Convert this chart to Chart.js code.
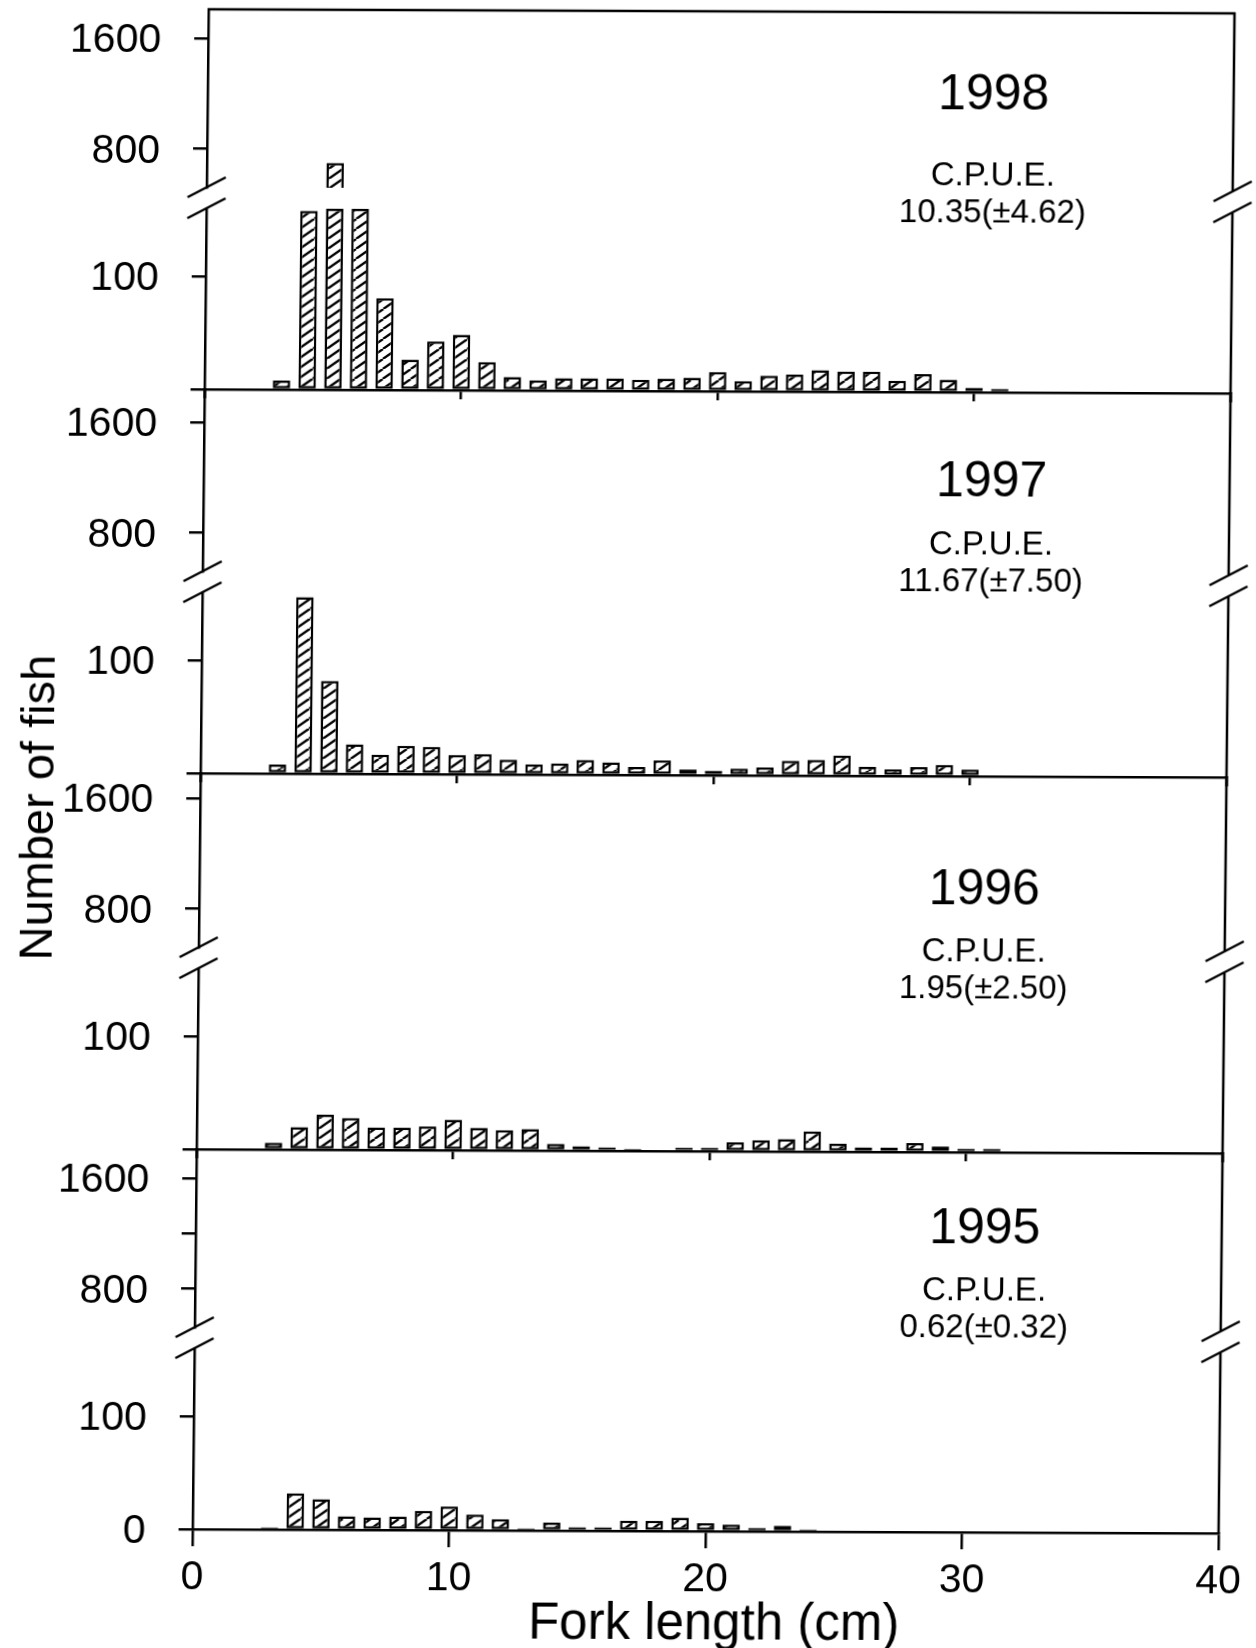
<!DOCTYPE html>
<html>
<head>
<meta charset="utf-8">
<script src="https://cdn.jsdelivr.net/npm/chart.js@4.4.1/dist/chart.umd.min.js"></script>
<style>
  html, body { margin: 0; padding: 0; background: #fff; overflow: hidden; }
  /* the printed figure is slightly sheared on the page */
  #fig { position: relative; width: 1256px; height: 1648px;
         transform-origin: 628px 824px; transform: matrix(1, 0.004, -0.0105, 1, 0, 0); }
  #fig canvas { position: absolute; left: 0; top: 0; }
</style>
</head>
<body>
<div id="fig">
  <canvas id="c1998" width="1256" height="1648"></canvas>
  <canvas id="c1997" width="1256" height="1648"></canvas>
  <canvas id="c1996" width="1256" height="1648"></canvas>
  <canvas id="c1995" width="1256" height="1648"></canvas>
</div>
<script>
// fork length classes (cm), one bar per class
const lengths = [3, 4, 5, 6, 7, 8, 9, 10, 11, 12, 13, 14, 15, 16, 17,
                 18, 19, 20, 21, 22, 23, 24, 25, 26, 27, 28, 29, 30, 31, 32];

// number of fish per length class
const fish1998 = [8, 158, 700, 250, 81, 27, 43, 49, 25, 12, 9, 11, 11, 11, 10,
                  11, 12, 17, 9, 14, 15, 19, 18, 18, 10, 16, 11, 4, 3, 0];
const fish1997 = [8, 156, 82, 26, 17, 25, 24, 17, 18, 13, 9, 10, 13, 11, 7,
                  13, 5, 4, 6, 7, 13, 14, 18, 8, 6, 8, 10, 6, 0, 1];
const fish1996 = [6, 20, 31, 28, 20, 20, 21, 27, 20, 18, 19, 6, 4, 3, 2,
                  0, 3, 3, 8, 10, 11, 18, 7, 4, 4, 8, 5, 3, 3, 0];
const fish1995 = [2, 32, 27, 12, 11, 12, 17, 21, 14, 10, 2, 7, 3, 3, 9,
                  9, 12, 7, 6, 3, 5, 2, 1, 1, 1, 1, 1, 1, 0, 0];

const years = ['1998', '1997', '1996', '1995'];
const cpue = ['10.35(±4.62)', '11.67(±7.50)', '1.95(±2.50)', '0.62(±0.32)'];

// axis ticks
const xTicks = [0, 10, 20, 30, 40];
const lowTicks = [0, 100];
const highTicks = [800, 1200, 1600];
const highTickLabels = ['800', '', '1600'];

// broken y axis: 0-160 below the break, 520 and up above it
const LOW_MAX = 160;
const HIGH_MIN = 520;

const FONT = "'Liberation Sans', Arial, Helvetica, sans-serif";
Chart.defaults.font.family = FONT;
Chart.defaults.color = '#000';

// page geometry
const W = 1256, H = 1648;
const AXIS_X0 = 200, AXIS_X1 = 1226;
const FRAME_TOP = 11;
const BASELINES = [391, 775, 1151, 1531];
const LOW_H = 181, GAP_H = 21;
const HIGH_PX = 0.138; // pixels per fish above the break
const LW = 2.5;

// diagonal hatching for the bars
function hatchPattern() {
  const c = document.createElement('canvas');
  c.width = 14; c.height = 10;
  const g = c.getContext('2d');
  g.fillStyle = '#fff';
  g.fillRect(0, 0, 14, 10);
  g.strokeStyle = '#000';
  g.lineWidth = 2.3;
  g.beginPath();
  for (const k of [-1, 0, 1]) {
    g.moveTo(k * 14, 10);
    g.lineTo(k * 14 + 14, 0);
  }
  g.stroke();
  return g.createPattern(c, 'repeat');
}
const hatch = hatchPattern();

// right-hand frame, break marks, year and C.P.U.E. text, axis titles
const panelDecor = {
  id: 'panelDecor',
  afterDraw(chart, args, o) {
    const {ctx, chartArea: a, scales} = chart;
    const gTop = scales.yGap.top, gBot = scales.yGap.bottom;
    ctx.save();
    ctx.strokeStyle = '#000';
    ctx.lineWidth = LW;
    ctx.beginPath();
    ctx.moveTo(a.right, a.top - 1);
    ctx.lineTo(a.right, gTop);
    ctx.moveTo(a.right, gBot);
    ctx.lineTo(a.right, a.bottom);
    if (o.frameTop) {
      ctx.moveTo(a.left - 1, a.top);
      ctx.lineTo(a.right + 1, a.top);
    }
    for (const x of [a.left, a.right]) {
      for (const y of [gTop, gBot]) {
        ctx.moveTo(x - 19, y + 10);
        ctx.lineTo(x + 19, y - 10);
      }
    }
    ctx.stroke();

    ctx.fillStyle = '#000';
    ctx.textAlign = 'center';
    ctx.textBaseline = 'alphabetic';
    ctx.font = '50px ' + FONT;
    ctx.fillText(o.year, o.cx, o.yYear + 18);
    ctx.font = '33px ' + FONT;
    ctx.fillText('C.P.U.E.', o.cx, o.yCpue + 12);
    ctx.fillText(o.cpue, o.cx, o.yCpue + 49);

    if (o.xTitle) {
      ctx.textBaseline = 'middle';
      ctx.font = '51px ' + FONT;
      ctx.fillText('Fork length (cm)', 722, 1625);
    }
    if (o.yTitle) {
      ctx.translate(36, 810);
      ctx.rotate(-Math.PI / 2);
      ctx.textBaseline = 'alphabetic';
      ctx.font = '47px ' + FONT;
      ctx.fillText('Number of fish', 0, 17);
    }
    ctx.restore();
  }
};

const panels = [
  {id: 'c1998', counts: fish1998, cx: 986, yYear: 90, yCpue: 172},
  {id: 'c1997', counts: fish1997, cx: 988, yYear: 477, yCpue: 541},
  {id: 'c1996', counts: fish1996, cx: 985, yYear: 885, yCpue: 948},
  {id: 'c1995', counts: fish1995, cx: 989, yYear: 1224, yCpue: 1287}
];

const fitY = s => { s.width = AXIS_X0; s.paddingTop = 0; s.paddingBottom = 0; };

panels.forEach((p, i) => {
  const top = i === 0 ? FRAME_TOP : BASELINES[i - 1];
  const bottom = BASELINES[i];
  const highH = bottom - top - LOW_H - GAP_H;
  const highMax = HIGH_MIN + highH / HIGH_PX;
  const last = i === panels.length - 1;
  const xAxisH = last ? H - bottom : 20;

  const lowData = lengths.map((x, k) => ({x, y: Math.min(p.counts[k], LOW_MAX)}));
  const highData = lengths.map((x, k) => ({x, y: p.counts[k] > HIGH_MIN ? p.counts[k] : null}));

  const barStyle = {
    backgroundColor: hatch,
    borderColor: '#000',
    borderWidth: LW,
    borderSkipped: false,
    grouped: false,
    barPercentage: 0.68,
    categoryPercentage: 1
  };

  new Chart(document.getElementById(p.id), {
    type: 'bar',
    data: {
      datasets: [
        Object.assign({data: lowData, yAxisID: 'yLow'}, barStyle),
        Object.assign({data: highData, yAxisID: 'yHigh'}, barStyle)
      ]
    },
    options: {
      responsive: false,
      animation: false,
      events: [],
      layout: {padding: {top: top, left: 0, right: W - AXIS_X1, bottom: H - bottom - xAxisH}},
      plugins: {
        legend: {display: false},
        tooltip: {enabled: false},
        panelDecor: {
          frameTop: i === 0,
          yTitle: i === 0,
          xTitle: last,
          year: years[i],
          cpue: cpue[i],
          cx: p.cx,
          yYear: p.yYear,
          yCpue: p.yCpue
        }
      },
      scales: {
        x: {
          type: 'linear',
          min: 0,
          max: 40,
          offset: false,
          afterBuildTicks: s => { s.ticks = xTicks.map(v => ({value: v})); },
          afterFit: s => { s.height = xAxisH; s.paddingLeft = 0; s.paddingRight = 0; },
          grid: {drawOnChartArea: false, tickLength: last ? 17 : 9, color: '#000', lineWidth: LW, offset: false},
          border: {color: '#000', width: LW},
          ticks: {display: last, font: {size: 41}, padding: 7, maxRotation: 0}
        },
        yHigh: {
          type: 'linear',
          position: 'left',
          stack: 'left',
          stackWeight: highH,
          weight: 3,
          min: HIGH_MIN,
          max: highMax,
          beginAtZero: false,
          afterBuildTicks: s => { s.ticks = highTicks.map(v => ({value: v})); },
          afterFit: fitY,
          grid: {drawOnChartArea: false, tickLength: 14, color: '#000', lineWidth: LW},
          border: {color: '#000', width: LW},
          ticks: {font: {size: 41}, padding: 33, labelOffset: 3, callback: (v, k) => highTickLabels[k]}
        },
        yGap: {
          type: 'linear',
          position: 'left',
          stack: 'left',
          stackWeight: GAP_H,
          weight: 2,
          min: 0,
          max: 1,
          afterFit: fitY,
          grid: {display: false},
          border: {display: false},
          ticks: {display: false}
        },
        yLow: {
          type: 'linear',
          position: 'left',
          stack: 'left',
          stackWeight: LOW_H,
          weight: 1,
          min: 0,
          max: LOW_MAX,
          afterBuildTicks: s => { s.ticks = lowTicks.map(v => ({value: v})); },
          afterFit: fitY,
          grid: {drawOnChartArea: false, tickLength: 14, color: '#000', lineWidth: LW},
          border: {color: '#000', width: LW},
          ticks: {font: {size: 41}, padding: 33, labelOffset: 3, callback: v => (v === 0 && !last) ? '' : String(v)}
        }
      }
    },
    plugins: [panelDecor]
  });
});
</script>
</body>
</html>
